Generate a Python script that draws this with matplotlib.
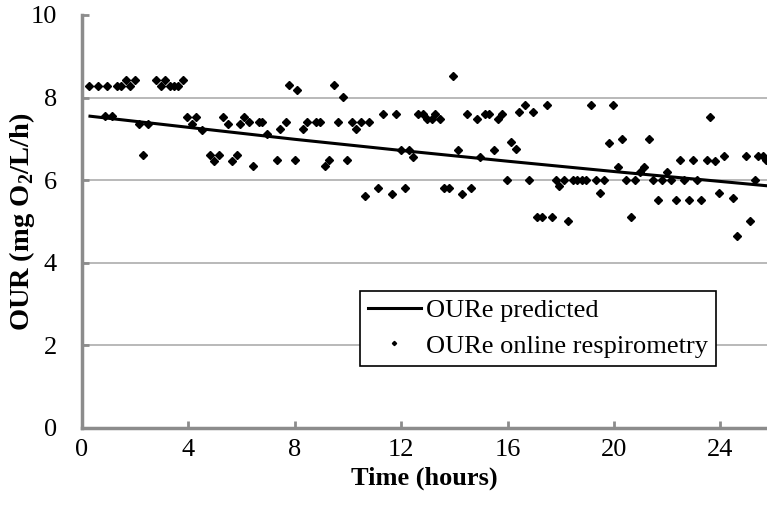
import matplotlib.pyplot as plt

# time (h) and measured OURe from online respirometry
t_meas = [0.27, 0.61, 0.86, 0.95, 1.14, 1.30, 1.45, 1.64, 1.79, 1.98,
          2.16, 2.31, 2.49, 2.79, 2.98, 3.13, 3.31, 3.46, 3.61, 3.81,
          3.93, 4.14, 4.29, 4.50, 4.81, 4.96, 5.16, 5.29, 5.50, 5.63,
          5.81, 5.95, 6.10, 6.29, 6.44, 6.64, 6.78, 6.97, 7.32, 7.44,
          7.66, 7.79, 8.00, 8.09, 8.32, 8.47, 8.80, 8.95, 9.14, 9.30,
          9.47, 9.64, 9.80, 9.95, 10.15, 10.30, 10.48, 10.64, 10.78, 11.12,
          11.30, 11.64, 11.80, 11.98, 12.13, 12.31, 12.46, 12.62, 12.81, 12.98,
          13.15, 13.27, 13.47, 13.59, 13.80, 13.95, 14.15, 14.30, 14.49, 14.64,
          14.83, 14.96, 15.14, 15.31, 15.50, 15.65, 15.79, 15.99, 16.12, 16.32,
          16.42, 16.65, 16.80, 16.97, 17.12, 17.31, 17.47, 17.66, 17.82, 17.94,
          18.13, 18.28, 18.44, 18.62, 18.78, 18.95, 19.15, 19.31, 19.48, 19.64,
          19.82, 19.97, 20.15, 20.31, 20.45, 20.64, 20.79, 20.98, 21.13, 21.32,
          21.45, 21.65, 21.82, 21.98, 22.14, 22.33, 22.48, 22.63, 22.81, 22.95,
          23.13, 23.28, 23.48, 23.61, 23.81, 23.96, 24.15, 24.49, 24.64, 24.96,
          25.11, 25.31, 25.43, 25.61, 25.71]
our_meas = [8.27, 8.27, 7.55, 8.27, 7.55, 8.27, 8.27, 8.42, 8.27, 8.42,
            7.37, 6.60, 7.37, 8.42, 8.27, 8.42, 8.27, 8.27, 8.27, 8.42,
            7.52, 7.37, 7.52, 7.21, 6.61, 6.47, 6.61, 7.52, 7.37, 6.47,
            6.60, 7.37, 7.52, 7.40, 6.35, 7.40, 7.40, 7.13, 6.50, 7.25,
            7.40, 8.30, 6.50, 8.18, 7.25, 7.40, 7.40, 7.40, 6.35, 6.50,
            8.30, 7.40, 8.02, 6.50, 7.40, 7.25, 7.40, 5.61, 7.40, 5.82,
            7.61, 5.66, 7.61, 6.73, 5.82, 6.73, 6.57, 7.61, 7.61, 7.47,
            7.47, 7.61, 7.47, 5.82, 5.82, 8.52, 6.73, 5.66, 7.61, 5.82,
            7.47, 6.57, 7.61, 7.61, 6.73, 7.47, 7.61, 6.00, 6.92, 6.76,
            7.65, 7.81, 6.00, 7.65, 5.12, 5.12, 7.81, 5.12, 6.00, 5.85,
            6.00, 5.02, 6.00, 6.00, 6.00, 6.00, 7.81, 6.00, 5.70, 6.00,
            6.91, 7.81, 6.33, 7.00, 6.00, 5.12, 6.00, 6.21, 6.33, 7.00,
            6.00, 5.53, 6.00, 6.21, 6.00, 5.53, 6.50, 6.00, 5.53, 6.50,
            6.00, 5.53, 6.50, 7.52, 6.47, 5.70, 6.59, 5.56, 4.64, 6.59,
            5.02, 6.00, 6.59, 6.59, 6.49]

# predicted OURe
t_pred = [0.3, 4, 8, 12, 16, 20, 24, 26]
our_pred = [7.55, 7.28, 6.99, 6.72, 6.46, 6.21, 5.97, 5.85]

yticks = [0, 2, 4, 6, 8, 10]
xticks = [0, 4, 8, 12, 16, 20, 24]

plt.rcParams['font.family'] = 'Liberation Serif'
plt.rcParams['mathtext.fontset'] = 'custom'
plt.rcParams['mathtext.rm'] = 'Liberation Serif'
plt.rcParams['mathtext.bf'] = 'Liberation Serif:bold'

fig = plt.figure(figsize=(7.67, 5.16), dpi=100)
ax = fig.add_axes([82/767, 88/516, 685/767, 413/516])

ax.plot(t_pred, our_pred, color='black', linewidth=2.2, label='OURe predicted', zorder=3)
ax.plot(t_meas, our_meas, linestyle='none', marker='D', markersize=4.3, color='black',
        label='OURe online respirometry', zorder=4)

ax.set_xlim(0, 25.75)
ax.set_ylim(0, 10)
ax.set_xticks(xticks)
ax.set_yticks(yticks)

for y in yticks[1:-1]:
    ax.axhline(y, color='#a6a6a6', linewidth=1.1, zorder=1)

for side in ['top', 'right']:
    ax.spines[side].set_visible(False)
for side in ['left', 'bottom']:
    ax.spines[side].set_color('#8c8c8c')
    ax.spines[side].set_linewidth(2.5)

ax.tick_params(axis='both', direction='in', length=5, width=2, color='#8c8c8c', labelsize=19)
ax.tick_params(axis='y', pad=18)
ax.tick_params(axis='x', pad=8)

ax.set_xlabel('Time (hours)', fontsize=19, fontweight='bold', labelpad=4)
ax.set_ylabel(r'OUR (mg O$_\mathbf{2}$/L/h)', fontsize=20.5, fontweight='bold')
ax.yaxis.set_label_coords(-0.066, 0.5)

leg = ax.legend(loc='upper left', bbox_to_anchor=(0.406, 0.332), borderaxespad=0,
                fancybox=False, framealpha=1, edgecolor='black', fontsize=19,
                handlelength=2.0, handletextpad=0.2, labelspacing=0.45, borderpad=0.3,
                markerscale=0.5)
leg.get_frame().set_linewidth(1.2)

plt.savefig('out.png', dpi=100)
